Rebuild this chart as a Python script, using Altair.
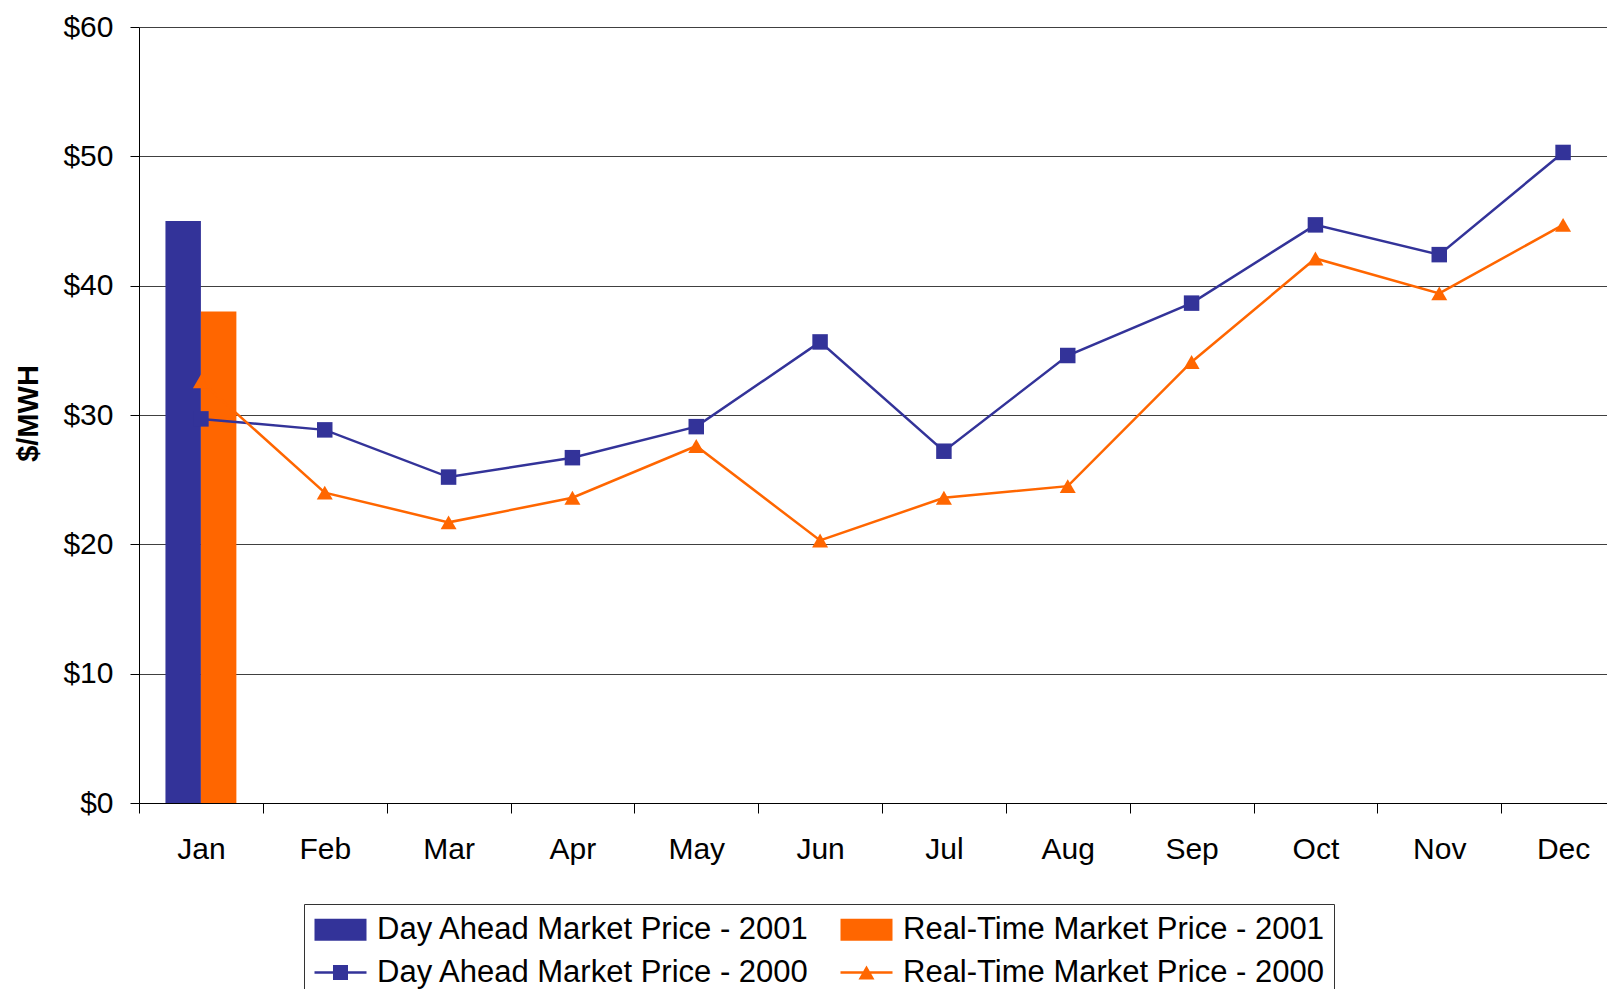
import altair as alt
import pandas as pd

# ---- data ----
months = ["Jan", "Feb", "Mar", "Apr", "May", "Jun", "Jul", "Aug", "Sep", "Oct", "Nov", "Dec"]
series_names = [
    "Day Ahead Market Price - 2001",
    "Real-Time Market Price - 2001",
    "Day Ahead Market Price - 2000",
    "Real-Time Market Price - 2000",
]
bar_months = ["Jan"]
da_2001 = [45.0]
rt_2001 = [38.0]
da_2000 = [29.7, 28.85, 25.2, 26.7, 29.1, 35.65, 27.2, 34.6, 38.65, 44.7, 42.4, 50.3]
rt_2000 = [32.6, 24.0, 21.7, 23.6, 27.6, 20.3, 23.6, 24.5, 34.1, 42.1, 39.4, 44.7]
y_ticks = [0, 10, 20, 30, 40, 50, 60]

# ---- styles ----
BLUE = "#333399"
ORANGE = "#FF6600"
colors = [BLUE, ORANGE, BLUE, ORANGE]
FONT = "Liberation Sans"

bars_df = pd.DataFrame(
    [{"month": m, "series": series_names[0], "value": v} for m, v in zip(bar_months, da_2001)]
    + [{"month": m, "series": series_names[1], "value": v} for m, v in zip(bar_months, rt_2001)]
)
lines_df = pd.DataFrame(
    [{"month": m, "series": series_names[2], "value": v} for m, v in zip(months, da_2000)]
    + [{"month": m, "series": series_names[3], "value": v} for m, v in zip(months, rt_2000)]
)

BAR_PATH = "M-1,-0.733H2.467V0.733H-1Z"
SQ_PATH = "M-1,-0.083H2.467V0.083H-1Z M0.233,-0.5H1.233V0.5H0.233Z"
TRI_PATH = "M-1,-0.083H2.467V0.083H-1Z M0.733,-0.467L1.266,0.467H0.2Z"

shape_expr = (
    "indexof(datum.value, '2001') >= 0 ? '" + BAR_PATH + "' : "
    "(indexof(datum.value, 'Day Ahead') >= 0 ? '" + SQ_PATH + "' : '" + TRI_PATH + "')"
)
fill_expr = "indexof(datum.value, 'Day Ahead') >= 0 ? '" + BLUE + "' : '" + ORANGE + "'"

legend = alt.Legend(
    title=None,
    orient="none",
    legendX=165,
    legendY=877,
    direction="horizontal",
    columns=2,
    columnPadding=30,
    rowPadding=11,
    padding=10,
    labelFont=FONT,
    labelFontSize=31,
    labelColor="black",
    labelOffset=32,
    labelLimit=2000,
    symbolSize=900,
    symbolStrokeWidth=0,
    symbolOpacity=1,
    symbolType={"expr": shape_expr},
    symbolFillColor={"expr": fill_expr},
    strokeColor="#333333",
    fillColor="white",
)

color = alt.Color(
    "series:N",
    scale=alt.Scale(domain=series_names, range=colors),
    legend=legend,
)

x = alt.X(
    "month:N",
    sort=months,
    scale=alt.Scale(domain=months, range=[0, 1486], paddingInner=0, paddingOuter=0),
    axis=alt.Axis(
        title=None,
        labelAngle=0,
        tickBand="extent",
        tickSize=10,
        tickColor="black",
        domainColor="black",
        labelFont=FONT,
        labelFontSize=30,
        labelColor="black",
        labelPadding=21,
        grid=False,
    ),
)

y = alt.Y(
    "value:Q",
    scale=alt.Scale(domain=[0, 60], nice=False, zero=True),
    axis=alt.Axis(
        title="$/MWH",
        values=y_ticks,
        format="$.0f",
        tickSize=9,
        tickColor="black",
        domainColor="black",
        labelFont=FONT,
        labelFontSize=30,
        labelColor="black",
        labelPadding=17,
        grid=True,
        gridColor="#404040",
        gridWidth=1,
        titleFont=FONT,
        titleFontSize=29,
        titleFontWeight="bold",
        titleColor="black",
        titleX=-111,
        titleY=386,
        titleBaseline="middle",
    ),
)

bars = alt.Chart(bars_df).mark_bar(opacity=1).encode(
    x=x,
    xOffset=alt.XOffset(
        "series:N",
        scale=alt.Scale(domain=series_names[:2], paddingInner=0, paddingOuter=0.746),
    ),
    y=y,
    color=color,
)

lines = alt.Chart(lines_df).mark_line(strokeWidth=2.5).encode(
    x=x, y=y, color=color, detail="series:N"
)

pts_sq = (
    alt.Chart(lines_df)
    .transform_filter(alt.datum.series == series_names[2])
    .mark_point(shape="square", filled=True, opacity=1, size=240)
    .encode(x=x, y=y, color=color)
)
pts_tri = (
    alt.Chart(lines_df)
    .transform_filter(alt.datum.series == series_names[3])
    .mark_point(shape="triangle-up", filled=True, opacity=1, size=256)
    .encode(x=x, y=y, color=color)
)

chart = (
    alt.layer(bars, lines, pts_sq, pts_tri)
    .properties(
        width=1468,
        height=776,
        autosize=alt.AutoSizeParams(type="none"),
        padding={"left": 131, "top": 19, "right": 0, "bottom": 186},
        background="white",
    )
    .configure_view(stroke=None)
)

chart.save("out.html", embed_options={"renderer": "svg", "actions": False})
